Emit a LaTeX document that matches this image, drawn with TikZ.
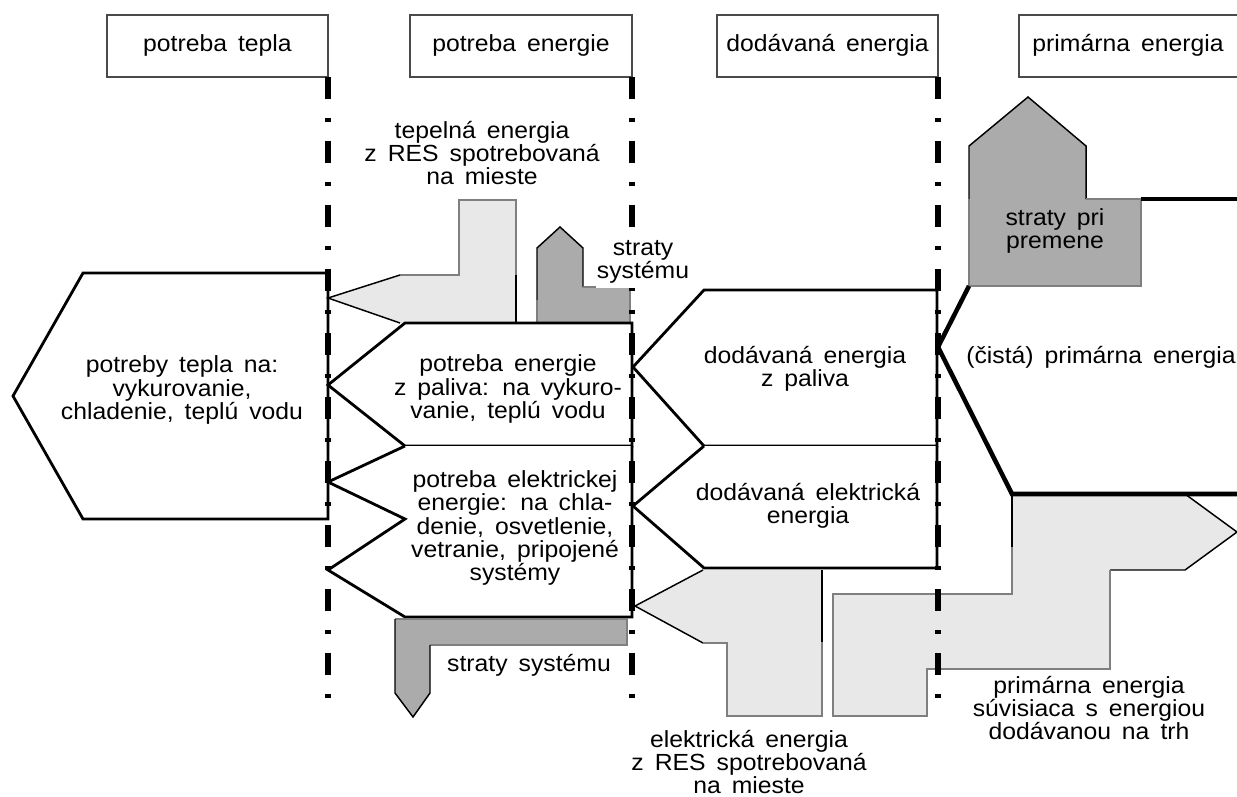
\documentclass[tikz,border=0pt]{standalone}
\usepackage{fontspec}
\setmainfont{Liberation Sans}[FakeStretch=1.06,WordSpace=1.6]
\definecolor{lightg}{HTML}{E8E8E8}
\definecolor{darkg}{HTML}{ABABAB}
\definecolor{edgeg}{HTML}{7F7F7F}
\definecolor{hdrline}{HTML}{4A4A4A}
\begin{document}
\begin{tikzpicture}[x=0.75pt,y=-0.75pt,
  hdrbox/.style={draw=hdrline,line width=1.2pt,fill=white},
  lbl/.style={font=\fontsize{17.5}{17.3}\selectfont,align=center,inner sep=0pt},
  outline/.style={draw=black,line width=2.1pt,line join=miter,fill=white},
  thinblack/.style={draw=black,line width=1.1pt},
  greyedge/.style={draw=edgeg,line width=1.8pt},
  heavy/.style={draw=black,line width=3.4pt,line join=miter},
  divider/.style={draw=black,line width=4.8pt,dash pattern=on 16.5pt off 14.25pt on 3pt off 14.25pt}]
\useasboundingbox (0,0) rectangle (1237,796);
\fill[white] (0,0) rectangle (1237,796);

% header boxes
\draw[hdrbox] (107,15) rectangle (328,77);
\draw[hdrbox] (410,15) rectangle (632,77);
\draw[hdrbox] (717,15) rectangle (938,77);
\draw[hdrbox] (1019,15) rectangle (1240,77);
\node[lbl] (h1) at (217.5,45) {potreba tepla};
\node[lbl] (h2) at (521,45) {potreba energie};
\node[lbl] (h3) at (827.5,45) {dodávaná energia};
\node[lbl] (h4) at (1128,45) {primárna energia};

% left pentagon: heat demand
\draw[outline] (13,396) -- (83,273) -- (328,273) -- (328,519) -- (83,519) -- cycle;

% tepelná energia z RES (light grey)
\fill[lightg] (328,298) -- (400,275) -- (459,275) -- (459,200) -- (516,200) -- (516,323) -- (400,323) -- cycle;
\draw[greyedge] (400,275) -- (459,275) -- (459,200) -- (516,200) -- (516,275);
\draw[thinblack] (516,275) -- (516,323);
\draw[thinblack] (400,275) -- (328,298) -- (400,323);

% straty systemu (top, dark grey)
\fill[darkg] (537,323) -- (537,248) -- (560,227) -- (583,248) -- (583,287) -- (630,287) -- (630,323) -- cycle;
\draw[thinblack] (537,300) -- (537,248) -- (560,227) -- (583,248) -- (583,287);
\draw[greyedge] (583,287) -- (630,287) -- (630,323);
\draw[greyedge] (537,300) -- (537,323);

% energy demand pentagons
\draw[outline] (328,385) -- (405,323) -- (632,323) -- (632,446) -- (405,446) -- cycle;
\draw[outline] (405,446) -- (328,482) -- (405,519) -- (328,570) -- (405,617) -- (632,617) -- (632,446);

% straty systemu (bottom)
\fill[darkg] (395,619) -- (627,619) -- (627,645) -- (430,645) -- (430,693) -- (413,717) -- (395,693) -- cycle;
\draw[greyedge] (430,645) -- (627,645) -- (627,619) -- (395,619);
\draw[thinblack] (395,619) -- (395,693) -- (413,717) -- (430,693) -- (430,645);

% delivered energy pentagons
\draw[outline] (633,367) -- (704,290) -- (937,290) -- (937,446) -- (704,446) -- cycle;
\draw[outline] (704,446) -- (633,506) -- (704,568) -- (937,568) -- (937,446);

% elektricka energia z RES (light grey)
\fill[lightg] (635,606) -- (703,570) -- (822,570) -- (822,716) -- (727,716) -- (727,643) -- (703,643) -- cycle;
\draw[thinblack] (703,643) -- (635,606) -- (703,570);
\draw[thinblack] (822,570) -- (822,642);
\draw[greyedge] (822,642) -- (822,716) -- (727,716) -- (727,643) -- (703,643);

% straty pri premene
\fill[darkg] (969,286) -- (969,146) -- (1028,97) -- (1086,146) -- (1086,199) -- (1141,199) -- (1141,286) -- cycle;
\draw[thinblack] (969,199) -- (969,146) -- (1028,97) -- (1086,146) -- (1086,199);
\draw[greyedge] (1086,199) -- (1141,199) -- (1141,286) -- (969,286) -- (969,199);

% primary energy related to exported energy (light grey)
\fill[lightg] (833,594) -- (1012,594) -- (1012,494) -- (1185,494) -- (1237,532) -- (1185,570) -- (1110,570) -- (1110,669) -- (927,669) -- (927,716) -- (833,716) -- cycle;
\draw[thinblack] (1012,547) -- (1012,494);
\draw[thinblack] (1185,494) -- (1237,532) -- (1185,570) -- (1110,570);
\draw[greyedge] (1110,570) -- (1110,669) -- (927,669) -- (927,716) -- (833,716) -- (833,594) -- (1012,594) -- (1012,547);

% heavy primary energy outline
\draw[heavy] (1141,199) -- (1240,199);
\draw[heavy] (969,286) -- (938,347) -- (1012,494) -- (1240,494);

% dash-dot dividers
\coordinate (d1t) at (328,77);  \coordinate (d1b) at (328,701);
\coordinate (d2t) at (632,77);  \coordinate (d2b) at (632,701);
\coordinate (d3t) at (938,77);  \coordinate (d3b) at (938,701);
\draw[divider] (d1t) -- (d1b);
\draw[divider] (d2t) -- (d2b);
\draw[divider] (d3t) -- (d3b);

% texts
\node[lbl] (t1) at (182,390) {potreby tepla na:\\vykurovanie,\\chladenie, teplú vodu};
\node[lbl] (t2) at (482,153) {tepelná energia\\z RES spotrebovaná\\na mieste};
\node[lbl,fill=white,inner ysep=3pt,inner xsep=1pt] (t3) at (643,262) {straty\\systému};
\node[lbl] (t4) at (508,389) {potreba energie\\z paliva: na vykuro-\\vanie, teplú vodu};
\node[lbl] (t5) at (515,528) {potreba elektrickej\\energie: na chla-\\denie, osvetlenie,\\vetranie, pripojené\\systémy};
\node[lbl] (t6) at (529,665) {straty systému};
\node[lbl] (t7) at (805,369) {dodávaná energia\\z paliva};
\node[lbl] (t8) at (808,506) {dodávaná elektrická\\energia};
\node[lbl] (t9) at (749,762) {elektrická energia\\z RES spotrebovaná\\na mieste};
\node[lbl] (t10) at (1055,231) {straty pri\\premene};
\node[lbl,anchor=east] (t11) at (1236,357) {(čistá) primárna energia};
\node[lbl] (t12) at (1089,708) {primárna energia\\súvisiaca s energiou\\dodávanou na trh};
\end{tikzpicture}
\end{document}
